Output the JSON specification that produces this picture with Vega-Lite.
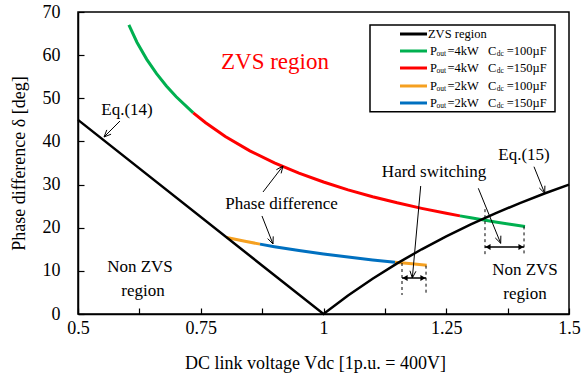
{
  "$schema": "https://vega.github.io/schema/vega-lite/v6.json",
  "width": 491,
  "height": 302,
  "autosize": {"type": "none"},
  "padding": {"left": 78, "top": 12, "right": 18, "bottom": 65},
  "background": "white",
  "config": {
    "view": {"stroke": "black", "strokeWidth": 1.5},
    "font": "Liberation Serif",
    "axis": {
      "domainColor": "black", "domainWidth": 1.5, "tickColor": "black", "tickWidth": 1.2,
      "labelColor": "black", "titleColor": "black", "labelFont": "Liberation Serif", "titleFont": "Liberation Serif",
      "labelFontSize": 18, "titleFontSize": 18, "titleFontWeight": "normal", "grid": false,
      "labelFlush": false, "labelOverlap": false, "labelBound": false
    }
  },
  "datasets": {
    "curves": [
      {"series": "4kW100", "seg": "g1", "x": 0.6036, "y": 67.0},
      {"series": "4kW100", "seg": "g1", "x": 0.62, "y": 63.0},
      {"series": "4kW100", "seg": "g1", "x": 0.64, "y": 59.03},
      {"series": "4kW100", "seg": "g1", "x": 0.66, "y": 55.71},
      {"series": "4kW100", "seg": "g1", "x": 0.68, "y": 52.86},
      {"series": "4kW100", "seg": "g1", "x": 0.70, "y": 50.36},
      {"series": "4kW100", "seg": "g1", "x": 0.7348, "y": 46.63},
      {"series": "4kW150", "seg": "r1", "x": 0.7348, "y": 46.63},
      {"series": "4kW150", "seg": "r1", "x": 0.76, "y": 44.32},
      {"series": "4kW150", "seg": "r1", "x": 0.80, "y": 41.14},
      {"series": "4kW150", "seg": "r1", "x": 0.85, "y": 37.81},
      {"series": "4kW150", "seg": "r1", "x": 0.90, "y": 35.03},
      {"series": "4kW150", "seg": "r1", "x": 0.95, "y": 32.65},
      {"series": "4kW150", "seg": "r1", "x": 1.00, "y": 30.59},
      {"series": "4kW150", "seg": "r1", "x": 1.05, "y": 28.78},
      {"series": "4kW150", "seg": "r1", "x": 1.10, "y": 27.19},
      {"series": "4kW150", "seg": "r1", "x": 1.15, "y": 25.77},
      {"series": "4kW150", "seg": "r1", "x": 1.20, "y": 24.49},
      {"series": "4kW150", "seg": "r1", "x": 1.25, "y": 23.34},
      {"series": "4kW150", "seg": "r1", "x": 1.278, "y": 22.74},
      {"series": "4kW100", "seg": "g2", "x": 1.278, "y": 22.74},
      {"series": "4kW100", "seg": "g2", "x": 1.30, "y": 22.29},
      {"series": "4kW100", "seg": "g2", "x": 1.3324, "y": 21.66},
      {"series": "4kW100", "seg": "g2", "x": 1.35, "y": 21.34},
      {"series": "4kW100", "seg": "g2", "x": 1.38, "y": 20.8},
      {"series": "4kW100", "seg": "g2", "x": 1.4104, "y": 20.29},
      {"series": "2kW100", "seg": "o1", "x": 0.8028, "y": 17.73},
      {"series": "2kW100", "seg": "o1", "x": 0.84, "y": 16.86},
      {"series": "2kW100", "seg": "o1", "x": 0.8707, "y": 16.2},
      {"series": "2kW150", "seg": "b1", "x": 0.8707, "y": 16.2},
      {"series": "2kW150", "seg": "b1", "x": 0.90, "y": 15.61},
      {"series": "2kW150", "seg": "b1", "x": 0.95, "y": 14.71},
      {"series": "2kW150", "seg": "b1", "x": 1.00, "y": 13.91},
      {"series": "2kW150", "seg": "b1", "x": 1.05, "y": 13.19},
      {"series": "2kW150", "seg": "b1", "x": 1.10, "y": 12.54},
      {"series": "2kW150", "seg": "b1", "x": 1.1456, "y": 12.0},
      {"series": "2kW100", "seg": "o2", "x": 1.1456, "y": 12.0},
      {"series": "2kW100", "seg": "o2", "x": 1.18, "y": 11.63},
      {"series": "2kW100", "seg": "o2", "x": 1.2102, "y": 11.32}
    ],
    "zvs": [
      {"x": 0.5, "y": 45}, {"x": 1.0, "y": 0}, {"x": 1.05, "y": 4.29}, {"x": 1.1, "y": 8.18},
      {"x": 1.15, "y": 11.74}, {"x": 1.2, "y": 15.0}, {"x": 1.25, "y": 18.0}, {"x": 1.3, "y": 20.77},
      {"x": 1.35, "y": 23.33}, {"x": 1.4, "y": 25.71}, {"x": 1.45, "y": 27.93}, {"x": 1.5, "y": 30.0}
    ],
    "arrows": [
      {"id": "a1s", "o": 1, "x": 0.5855, "y": 44.73}, {"id": "a1s", "o": 2, "x": 0.553, "y": 41.03},
      {"id": "a1h", "o": 1, "x": 0.5674, "y": 41.68}, {"id": "a1h", "o": 2, "x": 0.553, "y": 41.03}, {"id": "a1h", "o": 3, "x": 0.5587, "y": 42.67},
      {"id": "a2s", "o": 1, "x": 0.8768, "y": 28.28}, {"id": "a2s", "o": 2, "x": 0.9175, "y": 34.3},
      {"id": "a2h", "o": 1, "x": 0.9137, "y": 32.59}, {"id": "a2h", "o": 2, "x": 0.9175, "y": 34.3}, {"id": "a2h", "o": 3, "x": 0.904, "y": 33.44},
      {"id": "a3s", "o": 1, "x": 0.8747, "y": 22.72}, {"id": "a3s", "o": 2, "x": 0.8971, "y": 16.23},
      {"id": "a3h", "o": 1, "x": 0.8976, "y": 17.99}, {"id": "a3h", "o": 2, "x": 0.8971, "y": 16.23}, {"id": "a3h", "o": 3, "x": 0.8863, "y": 17.48},
      {"id": "a4s", "o": 1, "x": 1.198, "y": 29.67}, {"id": "a4s", "o": 2, "x": 1.1809, "y": 8.344},
      {"id": "a4h", "o": 1, "x": 1.1882, "y": 9.897}, {"id": "a4h", "o": 2, "x": 1.1809, "y": 8.344}, {"id": "a4h", "o": 3, "x": 1.1761, "y": 10.022},
      {"id": "a5s", "o": 1, "x": 1.3153, "y": 29.14}, {"id": "a5s", "o": 2, "x": 1.3609, "y": 16.39},
      {"id": "a5h", "o": 1, "x": 1.3612, "y": 18.15}, {"id": "a5h", "o": 2, "x": 1.3609, "y": 16.39}, {"id": "a5h", "o": 3, "x": 1.3499, "y": 17.63},
      {"id": "a6s", "o": 1, "x": 1.4287, "y": 34.14}, {"id": "a6s", "o": 2, "x": 1.4505, "y": 27.98},
      {"id": "a6h", "o": 1, "x": 1.4509, "y": 29.74}, {"id": "a6h", "o": 2, "x": 1.4505, "y": 27.98}, {"id": "a6h", "o": 3, "x": 1.4395, "y": 29.22}
    ],
    "dblines": [
      {"x": 1.1599, "x2": 1.2088, "y": 8.344},
      {"x": 1.3289, "x2": 1.4084, "y": 15.53}
    ],
    "tleft": [{"x": 1.166, "y": 8.344}, {"x": 1.335, "y": 15.53}],
    "tright": [{"x": 1.2026, "y": 8.344}, {"x": 1.4023, "y": 15.53}],
    "dashes": [
      {"x": 1.1599, "y": 11.82, "y2": 4.4},
      {"x": 1.2088, "y": 11.2, "y2": 4.4},
      {"x": 1.3289, "y": 24.3, "y2": 13.68},
      {"x": 1.4084, "y": 20.3, "y2": 13.68}
    ],
    "notes": [
      {"x": 0.5998, "y": 47.28, "t": "Eq.(14)"},
      {"x": 0.9145, "y": 25.61, "t": "Phase difference"},
      {"x": 1.2251, "y": 32.91, "t": "Hard switching"},
      {"x": 1.4084, "y": 36.85, "t": "Eq.(15)"},
      {"x": 1.4104, "y": 10.2, "t": "Non ZVS"},
      {"x": 1.4104, "y": 4.64, "t": "region"},
      {"x": 0.6263, "y": 10.89, "t": "Non ZVS"},
      {"x": 0.6324, "y": 5.33, "t": "region"}
    ],
    "legbox": [{"x": 1.0947, "x2": 1.4715, "y": 66.99, "y2": 46.89}],
    "legline": [
      {"series": "ZVS", "x": 1.1558, "x2": 1.2108, "y": 64.9},
      {"series": "4kW100", "x": 1.1558, "x2": 1.2108, "y": 60.96},
      {"series": "4kW150", "x": 1.1558, "x2": 1.2108, "y": 57.02},
      {"series": "2kW100", "x": 1.1558, "x2": 1.2108, "y": 52.85},
      {"series": "2kW150", "x": 1.1558, "x2": 1.2108, "y": 48.91}
    ],
    "legmain": [
      {"x": 1.2128, "y": 64.9, "t": "ZVS region"},
      {"x": 1.2169, "y": 60.96, "t": "P"}, {"x": 1.2525, "y": 60.96, "t": "=4kW"}, {"x": 1.335, "y": 60.96, "t": "C"}, {"x": 1.3731, "y": 60.96, "t": "=100µF"},
      {"x": 1.2169, "y": 57.02, "t": "P"}, {"x": 1.2525, "y": 57.02, "t": "=4kW"}, {"x": 1.335, "y": 57.02, "t": "C"}, {"x": 1.3731, "y": 57.02, "t": "=150µF"},
      {"x": 1.2169, "y": 52.85, "t": "P"}, {"x": 1.2525, "y": 52.85, "t": "=2kW"}, {"x": 1.335, "y": 52.85, "t": "C"}, {"x": 1.3731, "y": 52.85, "t": "=100µF"},
      {"x": 1.2169, "y": 48.91, "t": "P"}, {"x": 1.2525, "y": 48.91, "t": "=2kW"}, {"x": 1.335, "y": 48.91, "t": "C"}, {"x": 1.3731, "y": 48.91, "t": "=150µF"}
    ],
    "legsub": [
      {"x": 1.2302, "y": 60.96, "t": "out"}, {"x": 1.353, "y": 60.96, "t": "dc"},
      {"x": 1.2302, "y": 57.02, "t": "out"}, {"x": 1.353, "y": 57.02, "t": "dc"},
      {"x": 1.2302, "y": 52.85, "t": "out"}, {"x": 1.353, "y": 52.85, "t": "dc"},
      {"x": 1.2302, "y": 48.91, "t": "out"}, {"x": 1.353, "y": 48.91, "t": "dc"}
    ]
  },
  "encoding": {
    "x": {
      "field": "x", "type": "quantitative",
      "scale": {"domain": [0.5, 1.5], "nice": false, "zero": false},
      "axis": {
        "title": "DC link voltage Vdc [1p.u. = 400V]",
        "values": [0.5, 0.625, 0.75, 0.875, 1, 1.125, 1.25, 1.375, 1.5],
        "labelExpr": "abs(datum.value*4 - round(datum.value*4)) < 0.01 ? format(datum.value, '.2~f') : ''",
        "tickSize": -6, "labelPadding": 11, "titlePadding": 17, "titleX": 237
      }
    },
    "y": {
      "field": "y", "type": "quantitative",
      "scale": {"domain": [0, 70], "nice": false, "zero": true},
      "axis": {
        "title": "Phase difference δ [deg]",
        "values": [0, 10, 20, 30, 40, 50, 60, 70],
        "tickSize": -6, "labelPadding": 24, "titlePadding": 14
      }
    }
  },
  "layer": [
    {
      "data": {"name": "curves"},
      "mark": {"type": "line", "strokeWidth": 3},
      "encoding": {
        "detail": {"field": "seg"},
        "color": {"field": "series", "type": "nominal", "legend": null,
          "scale": {"domain": ["ZVS", "4kW100", "4kW150", "2kW100", "2kW150"],
                    "range": ["#000000", "#00b050", "#ff0000", "#f5a020", "#0070c0"]}}
      }
    },
    {
      "data": {"name": "zvs"},
      "mark": {"type": "line", "strokeWidth": 2.5, "color": "black"},
      "encoding": {}
    },
    {
      "data": {"name": "dashes"},
      "mark": {"type": "rule", "strokeDash": [3, 3], "strokeWidth": 1, "color": "black"},
      "encoding": {"y2": {"field": "y2"}}
    },
    {
      "data": {"name": "arrows"},
      "mark": {"type": "line", "strokeWidth": 1, "color": "black"},
      "encoding": {"detail": {"field": "id"}, "order": {"field": "o", "type": "quantitative"}}
    },
    {
      "data": {"name": "dblines"},
      "mark": {"type": "rule", "strokeWidth": 1.5, "color": "black"},
      "encoding": {"x2": {"field": "x2"}}
    },
    {
      "data": {"name": "tleft"},
      "mark": {"type": "point", "shape": "triangle-left", "filled": true, "size": 36, "color": "black", "opacity": 1},
      "encoding": {}
    },
    {
      "data": {"name": "tright"},
      "mark": {"type": "point", "shape": "triangle-right", "filled": true, "size": 36, "color": "black", "opacity": 1},
      "encoding": {}
    },
    {
      "data": {"name": "notes"},
      "mark": {"type": "text", "font": "Liberation Serif", "fontSize": 17, "align": "center", "baseline": "middle", "color": "black"},
      "encoding": {"text": {"field": "t"}}
    },
    {
      "data": {"values": [{"x": 0.9012, "y": 58.41, "t": "ZVS region"}]},
      "mark": {"type": "text", "font": "Liberation Serif", "fontSize": 23, "align": "center", "baseline": "middle", "color": "#ff0000"},
      "encoding": {"text": {"field": "t"}}
    },
    {
      "data": {"name": "legbox"},
      "mark": {"type": "rect", "fill": "white", "stroke": "black", "strokeWidth": 1.5},
      "encoding": {"x2": {"field": "x2"}, "y2": {"field": "y2"}}
    },
    {
      "data": {"name": "legline"},
      "mark": {"type": "rule", "strokeWidth": 3},
      "encoding": {"x2": {"field": "x2"}, "color": {"field": "series", "type": "nominal", "legend": null}}
    },
    {
      "data": {"name": "legmain"},
      "mark": {"type": "text", "font": "Liberation Serif", "fontSize": 12.5, "align": "left", "baseline": "middle", "color": "black"},
      "encoding": {"text": {"field": "t"}}
    },
    {
      "data": {"name": "legsub"},
      "mark": {"type": "text", "font": "Liberation Serif", "fontSize": 7.5, "align": "left", "baseline": "middle", "dy": 3, "color": "black"},
      "encoding": {"text": {"field": "t"}}
    }
  ]
}
